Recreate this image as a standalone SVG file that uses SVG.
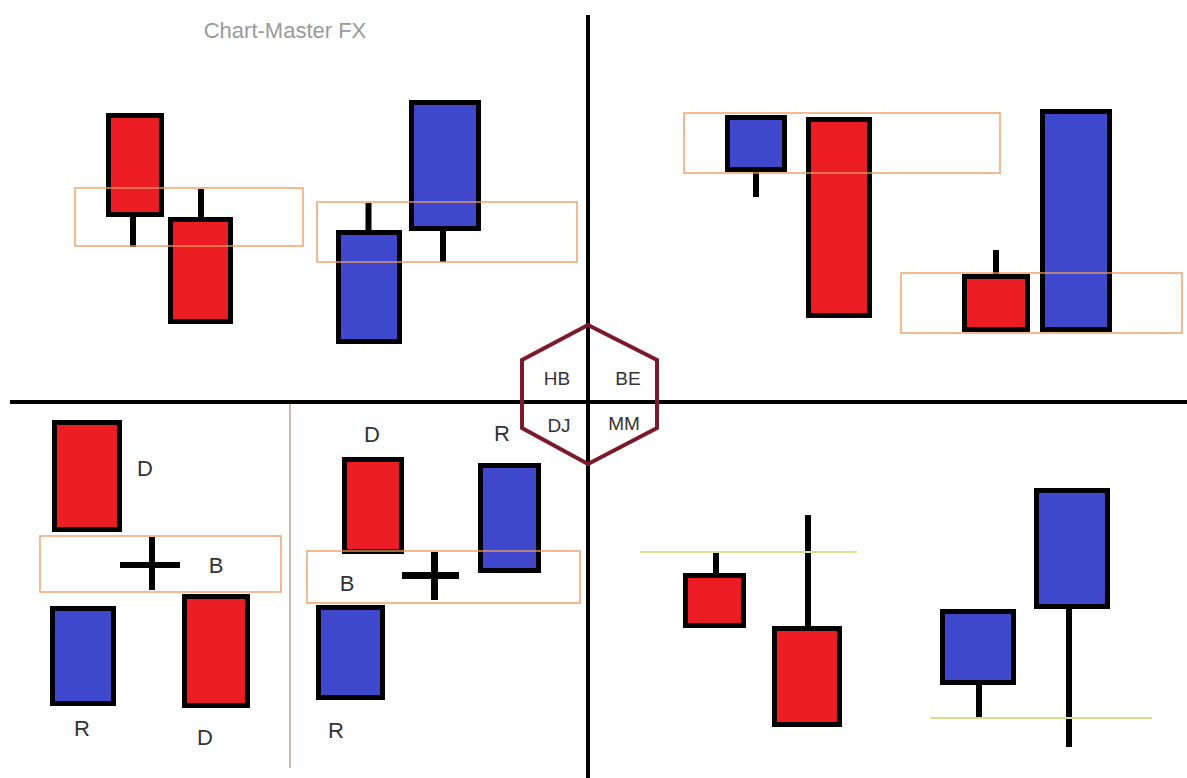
<svg xmlns="http://www.w3.org/2000/svg" width="1187" height="778" viewBox="0 0 1187 778">
<style>
.r{fill:#ec1c24;stroke:#000;stroke-width:5}
.b{fill:#3f48cc;stroke:#000;stroke-width:5}
.w{fill:#000}
.box{fill:none;stroke:#eb9a5e;stroke-width:1.6;stroke-opacity:0.85}
.lvl{stroke:#d2e38a;stroke-width:2.2}
.lbl{font-family:"Liberation Sans",Arial,sans-serif;font-size:22px;fill:#333;text-anchor:middle}
.hx{font-family:"Liberation Sans",Arial,sans-serif;font-size:19px;fill:#333;text-anchor:middle}
.ax{stroke:#000;stroke-width:4}
</style>
<rect width="1187" height="778" fill="#fff"/>
<text x="285" y="38" font-family="Liberation Sans,Arial,sans-serif" font-size="22" fill="#9a9a9a" text-anchor="middle">Chart-Master FX</text>

<g id="top-left">
<rect class="w" x="130" y="216" width="6" height="31"/>
<rect class="r" x="108.5" y="115.5" width="53" height="99"/>
<rect class="w" x="198" y="189" width="6" height="30"/>
<rect class="r" x="170.5" y="219.5" width="60" height="102"/>
<rect class="box" x="75" y="188" width="228" height="58"/>
<rect class="w" x="365.5" y="203" width="6" height="29"/>
<rect class="b" x="338.5" y="232.5" width="61" height="109"/>
<rect class="w" x="440" y="229" width="6" height="33"/>
<rect class="b" x="411.5" y="102.5" width="67" height="126"/>
<rect class="box" x="317" y="202" width="260" height="60"/>
</g>

<g id="top-right">
<rect class="w" x="753" y="170" width="6" height="27"/>
<rect class="b" x="727.5" y="117.5" width="57" height="52"/>
<rect class="r" x="808.5" y="119.5" width="61" height="196"/>
<rect class="box" x="684" y="113" width="316" height="60"/>
<rect class="w" x="993" y="250" width="6" height="26"/>
<rect class="r" x="964.5" y="276.5" width="63" height="53"/>
<rect class="b" x="1042.5" y="111.5" width="67" height="218"/>
<rect class="box" x="901" y="273" width="281" height="60"/>
</g>

<g id="bottom-left">
<rect class="r" x="54.5" y="422.5" width="65" height="107"/>
<text class="lbl" x="145" y="476">D</text>
<rect class="box" x="40" y="536" width="241" height="56"/>
<rect class="w" x="120" y="562" width="60" height="6"/>
<rect class="w" x="149" y="537" width="6" height="53"/>
<text class="lbl" x="216" y="573">B</text>
<rect class="b" x="52.5" y="608.5" width="61" height="95"/>
<text class="lbl" x="82" y="736">R</text>
<rect class="r" x="184.5" y="596.5" width="63" height="109"/>
<text class="lbl" x="205" y="745">D</text>
</g>

<line id="separator" x1="290" y1="404" x2="290" y2="768" stroke="#c99d8e" stroke-width="1.5"/>

<g id="bottom-middle">
<text class="lbl" x="372" y="442">D</text>
<text class="lbl" x="502" y="441">R</text>
<rect class="r" x="344.5" y="459.5" width="57" height="92"/>
<rect class="b" x="480.5" y="465.5" width="58" height="105"/>
<rect class="box" x="307" y="551" width="273" height="52"/>
<rect class="w" x="402" y="572" width="57" height="7"/>
<rect class="w" x="431" y="552" width="7" height="48"/>
<text class="lbl" x="347" y="591">B</text>
<rect class="b" x="318.5" y="607.5" width="64" height="90"/>
<text class="lbl" x="336" y="738">R</text>
</g>

<g id="bottom-right">
<rect class="w" x="713" y="553" width="6" height="23"/>
<rect class="r" x="685.5" y="575.5" width="58" height="50"/>
<rect class="w" x="805" y="515" width="6" height="114"/>
<rect class="r" x="774.5" y="628.5" width="65" height="96"/>
<line class="lvl" x1="640" y1="552" x2="857" y2="552"/>
<rect class="w" x="976" y="683" width="6" height="34"/>
<rect class="b" x="942.5" y="611.5" width="71" height="71"/>
<rect class="w" x="1066" y="607" width="6" height="140"/>
<rect class="b" x="1036.5" y="490.5" width="71" height="116"/>
<line class="lvl" x1="930" y1="718" x2="1152" y2="718"/>
</g>

<g id="connectors">
<line class="ax" x1="588" y1="15" x2="588" y2="778"/>
<line class="ax" x1="10" y1="402" x2="1187" y2="402"/>
</g>

<g id="hexagon">
<polygon points="588,325 657,360 657,428 588,464 522,428 522,360" fill="none" stroke="#7b1a2a" stroke-width="4"/>
<text class="hx" x="557" y="385">HB</text>
<text class="hx" x="628" y="385">BE</text>
<text class="hx" x="559" y="432">DJ</text>
<text class="hx" x="624" y="430">MM</text>
</g>
</svg>
